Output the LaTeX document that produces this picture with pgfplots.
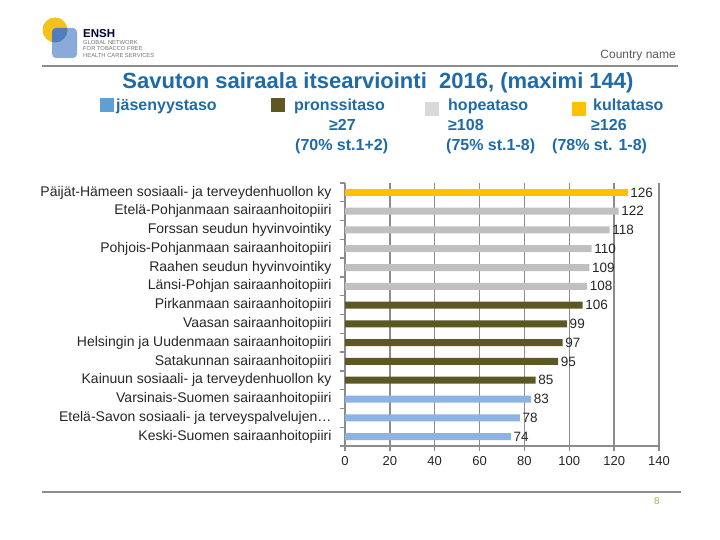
\documentclass[border=0pt]{standalone}
\usepackage{fontspec}
\setmainfont{Liberation Sans}
\usepackage{pgfplots}
\pgfplotsset{compat=1.18}

\definecolor{titleblue}{HTML}{1E6BA8}
\definecolor{gold}{HTML}{FFC000}
\definecolor{silver}{HTML}{C0C0C0}
\definecolor{olive}{HTML}{5C5723}
\definecolor{barblue}{HTML}{8DB3E2}
\definecolor{legblue}{HTML}{5DA0D6}
\definecolor{leggray}{HTML}{D9D9D9}
\definecolor{axgray}{HTML}{8C8C8C}
\definecolor{logoyellow}{HTML}{F5C21B}
\definecolor{logoblue}{HTML}{8AAAD9}
\definecolor{logodark}{HTML}{4F7DC0}

\newcommand{\fs}[1]{\fontsize{#1}{#1}\selectfont}

\begin{document}
\begin{tikzpicture}[x=1pt,y=1pt]
\path[use as bounding box] (0,0) rectangle (720,540);

% logo
\fill[logoyellow] (55,510) circle (12.5);
\fill[logoblue, rounded corners=4pt] (52,482) rectangle (77,512);
\begin{scope}
  \clip[rounded corners=4pt] (52,482) rectangle (77,512);
  \fill[logodark] (55,510) circle (12.5);
\end{scope}
\node[anchor=base west, inner sep=0, text=black!80!blue] at (83,502.5) {\fs{11.5}\bfseries ENSH};
\node[anchor=base west, inner sep=0, text=black!55] at (83,495) {\fs{5.8}GLOBAL NETWORK};
\node[anchor=base west, inner sep=0, text=black!55] at (83,489) {\fs{5.8}FOR TOBACCO FREE};
\node[anchor=base west, inner sep=0, text=black!55] at (83,482) {\fs{5.8}HEALTH CARE SERVICES};

% header
\node[anchor=base east, inner sep=0, text=black!65] at (676,481) {\fs{12}Country name};
\draw[axgray, line width=1.5pt] (42,474) -- (678,474);

% title
\node[text=titleblue, inner sep=0] at (378,457) {\fs{22}\bfseries Savuton sairaala itsearviointi\ \ 2016, (maximi 144)};

% legend
\fill[legblue] (100,428) rectangle (114,442);
\node[anchor=base west, inner sep=0, text=titleblue] at (116,429) {\fs{16}\bfseries jäsenyystaso};
\fill[olive] (271,428) rectangle (285,442);
\node[anchor=base west, inner sep=0, text=titleblue] at (294,429) {\fs{16}\bfseries pronssitaso};
\node[anchor=base west, inner sep=0, text=titleblue] at (329,409) {\fs{16}\bfseries ≥27};
\node[anchor=base west, inner sep=0, text=titleblue] at (295,389) {\fs{16}\bfseries (70\% st.1+2)};
\fill[leggray] (425,424) rectangle (439,438);
\node[anchor=base west, inner sep=0, text=titleblue] at (448,429) {\fs{16}\bfseries hopeataso};
\node[anchor=base west, inner sep=0, text=titleblue] at (448,409) {\fs{16}\bfseries ≥108};
\node[anchor=base west, inner sep=0, text=titleblue] at (446,389) {\fs{16}\bfseries (75\% st.1-8)};
\fill[gold] (572,424) rectangle (586,438);
\node[anchor=base west, inner sep=0, text=titleblue] at (593,429) {\fs{16}\bfseries kultataso};
\node[anchor=base west, inner sep=0, text=titleblue] at (591,409) {\fs{16}\bfseries ≥126};
\node[anchor=base west, inner sep=0, text=titleblue] at (552,389) {\fs{16}\bfseries (78\% st. 1-8)};

\begin{axis}[
    at={(345pt,94pt)}, anchor=south west,
    scale only axis, width=314pt, height=263pt,
    xbar, bar shift=0pt, bar width=7pt,
    xmin=0, xmax=140, ymin=-0.5, ymax=13.5,
    xtick={0,20,...,140},
    ytick={-0.5,0.5,...,13.5},
    y tick label as interval,
    yticklabels={
        Keski-Suomen sairaanhoitopiiri,
        {Etelä-Savon sosiaali- ja terveyspalvelujen…},
        Varsinais-Suomen sairaanhoitopiiri,
        Kainuun sosiaali- ja terveydenhuollon ky,
        Satakunnan sairaanhoitopiiri,
        Helsingin ja Uudenmaan sairaanhoitopiiri,
        Vaasan sairaanhoitopiiri,
        Pirkanmaan sairaanhoitopiiri,
        Länsi-Pohjan sairaanhoitopiiri,
        Raahen seudun hyvinvointiky,
        Pohjois-Pohjanmaan sairaanhoitopiiri,
        Forssan seudun hyvinvointiky,
        Etelä-Pohjanmaan sairaanhoitopiiri,
        Päijät-Hämeen sosiaali- ja terveydenhuollon ky},
    axis x line*=bottom, axis y line*=left,
    axis line style={draw=axgray, line width=1.4pt, -},
    xmajorgrids, major grid style={draw=axgray, line width=1.4pt},
    tick align=outside, major tick length=5pt,
    tick style={draw=axgray, line width=1.4pt},
    /pgf/number format/assume math mode=true,
    yticklabel style={font=\fs{14}, text=black!85, xshift=-5pt},
    xticklabel style={font=\fs{13}, text=black!85, yshift=-2pt},
    point meta=x,
    nodes near coords,
    nodes near coords style={font=\fs{13.5}, text=black!85, anchor=west, inner sep=2.5pt},
]
\addplot[fill=barblue, draw=none] coordinates {(74,0) (78,1) (83,2)};
\addplot[fill=olive, draw=none] coordinates {(85,3) (95,4) (97,5) (99,6) (106,7)};
\addplot[fill=silver, draw=none] coordinates {(108,8) (109,9) (110,10) (118,11) (122,12)};
\addplot[fill=gold, draw=none] coordinates {(126,13)};
\end{axis}

% footer
\draw[axgray, line width=1.5pt] (42,48) -- (681,48);
\node[text=black!25!yellow!70!green, inner sep=0] at (657,39) {\fs{10}8};
\end{tikzpicture}
\end{document}
